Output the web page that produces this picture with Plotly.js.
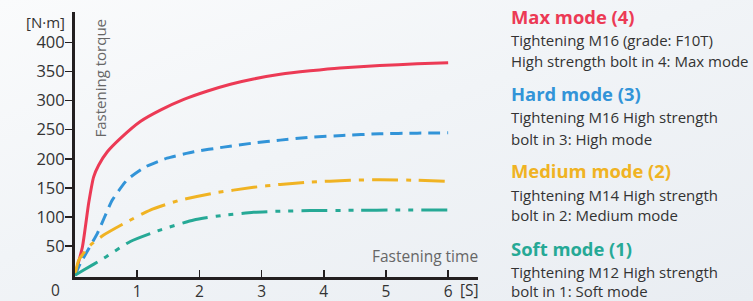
<!DOCTYPE html>
<html>
<head>
<meta charset="utf-8">
<script src="https://cdn.plot.ly/plotly-3.0.1.min.js"></script>
<style>
html,body{margin:0;padding:0;}
body{width:753px;height:301px;background:linear-gradient(160deg,#fafbfc 0%,#f1f4f7 45%,#e9edf2 100%);overflow:hidden;}
#chart{width:753px;height:301px;}
</style>
</head>
<body>
<div id="chart"></div>
<script>
// Data
const maxX  = [0, 0.12, 0.22, 0.30, 0.38, 0.52, 0.73, 1.05, 1.38, 1.75, 2.12, 2.5, 2.87, 3.3, 3.78, 4.26, 4.9, 5.5, 6.0];
const maxY  = [0, 49, 124, 169, 189, 212, 235, 264, 284, 302, 316, 328, 337, 345, 351, 356, 360, 363, 365];

const hardX = [0, 0.09, 0.36, 0.6, 0.84, 1.13, 1.48, 1.91, 2.39, 2.87, 3.3, 3.78, 4.3, 4.9, 5.5, 6.0];
const hardY = [0, 21, 72, 129, 164, 186, 201, 212, 220, 227, 232, 237, 240, 243, 244, 244.5];

const medX  = [0, 0.06, 0.25, 0.46, 0.79, 1.21, 1.69, 2.23, 2.87, 3.3, 3.78, 4.42, 4.9, 5.5, 6.0];
const medY  = [0, 26, 52, 69, 89, 112, 129, 141, 151, 156, 160, 163, 164, 163, 161];

const softX = [0, 0.14, 0.46, 0.89, 1.38, 1.91, 2.39, 2.87, 3.3, 3.78, 4.5, 5.2, 6.0];
const softY = [0, 9, 29, 58, 78, 95, 103, 108, 110, 111, 111.5, 112, 112];

const xTicks = [1, 2, 3, 4, 5, 6];
const yTicks = [50, 100, 150, 200, 250, 300, 350, 400];

const modeTitles = ["Max mode (4)", "Hard mode (3)", "Medium mode (2)", "Soft mode (1)"];
const modeLines = [
  ["Tightening M16 (grade: F10T)", "High strength bolt in 4: Max mode"],
  ["Tightening M16 High strength", "bolt in 3: High mode"],
  ["Tightening M14 High strength", "bolt in 2: Medium mode"],
  ["Tightening M12 High strength", "bolt in 1: Soft mode"]
];

const colors = ["#ec3a55", "#3294d8", "#f0b323", "#26a996"];
const FONT = "Open Sans, Noto Sans, sans-serif";

const sm = 0.5;
const traces = [
  {x: maxX,  y: maxY,  mode: "lines", line: {color: colors[0], width: 3, shape: "spline", smoothing: sm}},
  {x: hardX, y: hardY, mode: "lines", line: {color: colors[1], width: 3, shape: "spline", smoothing: sm, dash: "12px,7px"}},
  {x: medX,  y: medY,  mode: "lines", line: {color: colors[2], width: 3, shape: "spline", smoothing: sm, dash: "26px,8px,5px,8px"}},
  {x: softX, y: softY, mode: "lines", line: {color: colors[3], width: 3, shape: "spline", smoothing: sm, dash: "26px,8px,5px,8px,5px,8px"}}
];

const L = 75, R = 275, T = 12, B = 24, W = 753, H = 301;
const pw = W - L - R, ph = H - T - B;
const px = v => (v - L) / pw;
const py = v => (H - B - v) / ph;

const ann = [];
function addText(text, x, y, opts) {
  ann.push(Object.assign({
    text: text, xref: "paper", yref: "paper", x: px(x), y: py(y),
    showarrow: false, xanchor: "left", yanchor: "middle",
    font: {family: FONT, size: 15, color: "#333"}
  }, opts || {}));
}
const titleY = [16, 93, 170, 248];
const lineY = [[40, 61], [117, 139], [195, 215], [272, 291]];
for (let i = 0; i < 4; i++) {
  addText("<b>" + modeTitles[i] + "</b>", 509, titleY[i], {font: {family: FONT, size: 18.4, color: colors[i]}});
  addText(modeLines[i][0], 509, lineY[i][0]);
  addText(modeLines[i][1], 509, lineY[i][1]);
}
addText("[N·m]", 67, 22, {xanchor: "right", font: {family: FONT, size: 15, color: "#333"}});
addText("0", 62, 290, {xanchor: "right", font: {family: FONT, size: 15.5, color: "#333"}});
addText("[S]", 458, 290, {font: {family: FONT, size: 15.5, color: "#333"}});
addText("Fastening time", 480, 256, {xanchor: "right", font: {family: FONT, size: 15.5, color: "#666"}});
addText("Fastening torque", 99, 17, {textangle: -90, xanchor: "center", yanchor: "top", font: {family: FONT, size: 15, color: "#666"}});

const layout = {
  width: W, height: H,
  margin: {l: L, r: R, t: T, b: B, pad: 0},
  paper_bgcolor: "rgba(0,0,0,0)",
  plot_bgcolor: "rgba(0,0,0,0)",
  showlegend: false,
  xaxis: {
    range: [0, 6.48], tickvals: xTicks, ticktext: xTicks.map(String),
    showgrid: false, zeroline: false, showline: true, linecolor: "#231f20", linewidth: 3,
    ticks: "inside", ticklen: 7, tickwidth: 1.5, tickcolor: "#231f20",
    ticklabelstandoff: -2,
    tickfont: {family: FONT, size: 15.5, color: "#333"}, fixedrange: true
  },
  yaxis: {
    range: [-3, 452], tickvals: yTicks, ticktext: yTicks.map(String),
    showgrid: false, zeroline: false, showline: true, linecolor: "#231f20", linewidth: 3,
    ticks: "outside", ticklen: 7, tickwidth: 1.5, tickcolor: "#231f20",
    ticklabelstandoff: -3,
    tickfont: {family: FONT, size: 16.5, color: "#333"}, fixedrange: true
  },
  annotations: ann
};

Plotly.newPlot("chart", traces, layout, {staticPlot: true, displayModeBar: false});
</script>
</body>
</html>
